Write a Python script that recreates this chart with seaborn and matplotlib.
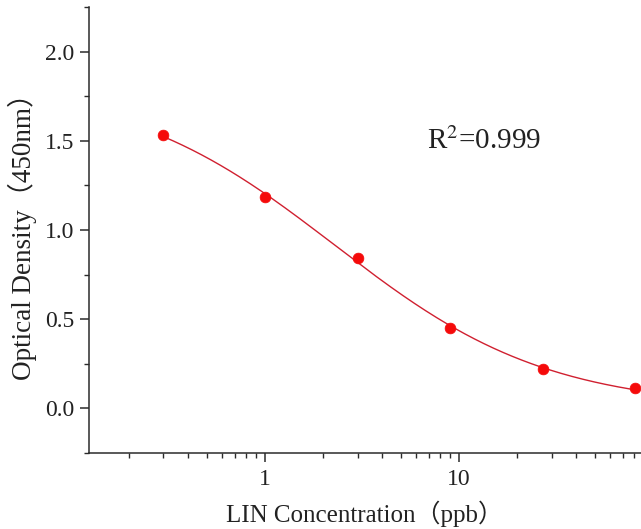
import matplotlib
matplotlib.use("Agg")

import numpy as np
import pandas as pd
import matplotlib.pyplot as plt
from matplotlib.ticker import AutoMinorLocator, FixedLocator, LogLocator, NullFormatter
import seaborn as sns

# ── Data ──────────────────────────────────────────────────────────────────────
conc_ppb = [0.3, 1.0, 3.0, 9.0, 27.0, 81.0]
optical_density = [1.53, 1.183, 0.844, 0.452, 0.220, 0.112]
r_squared = "0.999"

RED = "#f50a0a"
LINE_RED = "#d02030"
AXIS = "#2b2b2b"
FONTS = ["Liberation Serif", "Noto Sans CJK SC", "DejaVu Sans"]

sns.set_style("ticks")
plt.rcParams.update({
    "font.family": FONTS,
    "axes.edgecolor": AXIS,
    "axes.linewidth": 1.1,
    "xtick.color": AXIS,
    "ytick.color": AXIS,
    "xtick.labelcolor": "#222222",
    "ytick.labelcolor": "#222222",
    "xtick.direction": "out",
    "ytick.direction": "out",
    "xtick.major.size": 6.5,
    "ytick.major.size": 6.5,
    "xtick.minor.size": 3.5,
    "ytick.minor.size": 3.5,
    "xtick.major.width": 1.1,
    "ytick.major.width": 1.1,
    "xtick.minor.width": 1.0,
    "ytick.minor.width": 1.0,
})

df = pd.DataFrame({"conc": conc_ppb, "od": optical_density})


# 4-parameter logistic fit: grid over (C, B), linear least squares for (A, D)
def fit_4pl(x, y):
    x = np.asarray(x)
    y = np.asarray(y)
    best = None
    for logc in np.linspace(-1, 2, 301):
        c = 10 ** logc
        for b in np.linspace(0.3, 2.5, 221):
            g = 1.0 / (1.0 + (x / c) ** b)
            m = np.column_stack([g, 1 - g])
            (a, d), *_ = np.linalg.lstsq(m, y, rcond=None)
            err = np.sum((m @ np.array([a, d]) - y) ** 2)
            if best is None or err < best[0]:
                best = (err, a, b, c, d)
    return best[1:]


A, B, C, D = fit_4pl(df["conc"], df["od"])
x_fit = np.logspace(np.log10(df["conc"].min()), np.log10(df["conc"].max()), 300)
fit_df = pd.DataFrame({"conc": x_fit, "od": D + (A - D) / (1 + (x_fit / C) ** B)})

fig = plt.figure(figsize=(6.41, 5.29), dpi=100)
ax = fig.add_axes([89 / 641, 1 - 453 / 529, 1 - 89 / 641, (453 - 7) / 529])

sns.lineplot(data=fit_df, x="conc", y="od", ax=ax, color=LINE_RED, lw=1.0)
sns.scatterplot(data=df, x="conc", y="od", ax=ax, color=RED, s=60,
                edgecolor=RED, linewidth=0.5, zorder=5)

ax.set_xscale("log")
ax.set_xlim(0.124, 86.6)
ax.set_ylim(-0.25, 2.25)

ax.xaxis.set_major_locator(FixedLocator([1, 10]))
ax.set_xticklabels(["1", "10"])
ax.xaxis.set_minor_locator(LogLocator(base=10, subs=np.arange(2, 10)))
ax.xaxis.set_minor_formatter(NullFormatter())
ax.set_yticks([0.0, 0.5, 1.0, 1.5, 2.0])
ax.set_yticklabels(["0.0", "0.5", "1.0", "1.5", "2.0"])
ax.yaxis.set_minor_locator(AutoMinorLocator(2))
ax.tick_params(axis="both", which="major", labelsize=17)
ax.tick_params(axis="y", pad=4)
ax.tick_params(axis="x", pad=5)

sns.despine(ax=ax, top=True, right=True)

ax.set_xlabel("LIN Concentration（ppb）", fontsize=18, labelpad=8, color="#222222")
ax.set_ylabel("Optical Density（450nm）", fontsize=19.5, labelpad=6, color="#222222")

# R² annotation, placed in axes fractions
ax.text(0.612, 0.70, "R$^2$=" + r_squared, transform=ax.transAxes,
        fontsize=21, ha="left", va="center", color="#222222",
        math_fontfamily="stix")

fig.savefig("out.png", dpi=100)
plt.close(fig)
